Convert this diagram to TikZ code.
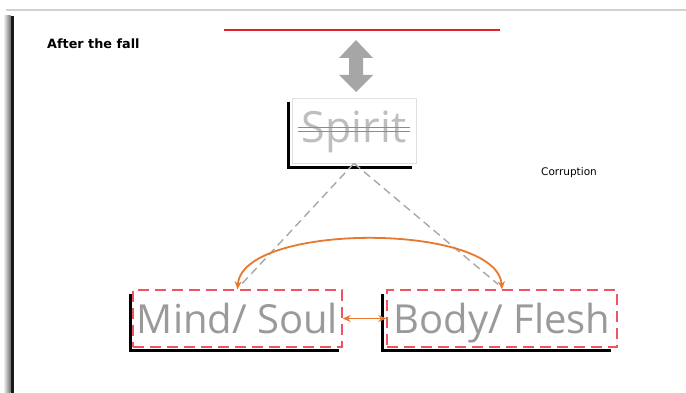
\documentclass[tikz,border=0pt]{standalone}
\usepackage{fontspec}
\setmainfont{Open Sans}
\newfontfamily\labelfont{DejaVu Sans}
\usetikzlibrary{arrows.meta,calc}
\definecolor{slidered}{HTML}{E3202B}
\definecolor{dashred}{HTML}{EE5560}
\definecolor{arcorange}{HTML}{E8782E}
\definecolor{txtgray}{HTML}{9A9A9A}
\definecolor{spiritgray}{HTML}{BEBEBE}
\definecolor{arrowgray}{HTML}{A6A6A6}
\definecolor{linegray}{HTML}{A8A8A8}
\tikzset{
  soulbox/.style={draw=dashred, line width=1.4pt, dash pattern=on 11pt off 6pt,
    minimum width=#1, minimum height=57pt, inner sep=0pt,
    text=txtgray, font=\fontsize{40}{40}\selectfont, text height=30pt, text depth=0pt},
  spiritbox/.style={draw=black!12, line width=0.6pt, minimum width=124pt, minimum height=65pt,
    inner sep=0pt, text=spiritgray, font=\fontsize{43}{43}\selectfont, text height=31pt, text depth=6pt},
  shadowline/.style={black, line width=3pt},
  linkdash/.style={linegray, line width=1.4pt, dash pattern=on 8pt off 5pt},
  orangelink/.style={arcorange, line width=1.8pt, {Stealth[length=8pt,width=7pt]}-{Stealth[length=8pt,width=7pt]}},
  smalltext/.style={text=black, inner sep=0pt, anchor=west}
}
\begin{document}
\begin{tikzpicture}[x=1pt,y=-1pt]
\useasboundingbox (0,0) rectangle (686,393);
\fill[white] (0,0) rectangle (686,393);
% slide frame
\draw[black!18, line width=1.5pt] (6,10) -- (686,10);
\shade[left color=white, right color=black!55] (3,16) rectangle (10.5,393);
\fill[black!90] (10.5,16) rectangle (13.5,393);
% title and label
\node[smalltext, font=\labelfont\bfseries\fontsize{12.8}{12.8}\selectfont] (title) at (47,44) {After the fall};
\node[smalltext, font=\labelfont\fontsize{10.5}{10.5}\selectfont] (corr) at (541,173) {Corruption};
% red line
\draw[slidered, line width=2pt] (224,30) -- (500,30);
% gray double arrow
\fill[arrowgray] (356,40) -- (373,58) -- (363,58) -- (363,75) -- (373,75) -- (356,92)
  -- (339,75) -- (349,75) -- (349,58) -- (339,58) -- cycle;
% spirit box
\node[spiritbox] (spirit) at (354,130.5) {Spirit};
\draw[black!45, line width=0.8pt] (298,127.5) -- (410,127.5);
\draw[black!45, line width=0.8pt] (298,131.5) -- (410,131.5);
\draw[shadowline] ($(spirit.north west)+(-3,4)$) -- ($(spirit.south west)+(-3,4)$) -- ($(spirit.south east)+(-4,4)$);
% lower boxes
\node[soulbox=209pt] (mind) at (237.5,318.5) {Mind/ Soul};
\node[soulbox=230pt] (body) at (502,318.5) {Body/ Flesh};
\draw[shadowline] ($(mind.north west)+(-1.5,5)$) -- ($(mind.south west)+(-1.5,3)$) -- ($(mind.south east)+(-4,3)$);
\draw[shadowline] ($(body.north west)+(-4,5)$) -- ($(body.south west)+(-4,3)$) -- ($(body.south east)+(-7,3)$);
% dashed links
\coordinate (leftend) at ($(mind.north)+(4,-5)$);
\coordinate (rightend) at ($(body.north)+(-4,-5)$);
\draw[linkdash] (spirit.south) -- (leftend);
\draw[linkdash] (spirit.south) -- (rightend);
% orange links
\draw[orangelink] (mind.north) .. controls +(5,-67) and +(-5,-67) .. (body.north);
\draw[orangelink] (mind.east) -- (body.west);
\end{tikzpicture}
\end{document}
